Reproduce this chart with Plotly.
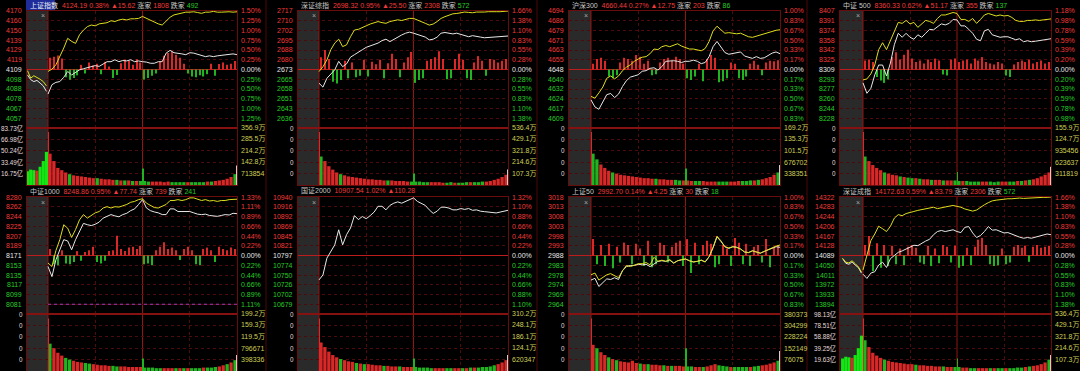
import plotly.graph_objects as go

W_PX, H_PX = 1080, 371

# ---------------- time grids (minutes after 09:30; 120 = 13:00, 240 = 15:00) ----------------
T = [0, 5, 10, 15, 20, 25, 30, 35, 40, 45, 50, 55, 60, 65, 70, 75, 80, 85, 90, 95,
     100, 105, 110, 115, 120, 125, 130, 135, 140, 145, 150, 155, 160, 165, 170, 175,
     180, 185, 190, 195, 200, 205, 210, 215, 220, 225, 230, 235, 240]
BAR_T = [2.5, 7.5, 12.5, 17.5, 22.5, 27.5, 32.5, 37.5, 42.5, 47.5, 52.5, 57.5, 62.5, 67.5,
         72.5, 77.5, 82.5, 87.5, 92.5, 97.5, 102.5, 107.5, 112.5, 117.5, 122.5, 127.5, 132.5,
         137.5, 142.5, 147.5, 152.5, 157.5, 162.5, 167.5, 172.5, 177.5, 182.5, 187.5, 192.5,
         197.5, 202.5, 207.5, 212.5, 217.5, 222.5, 227.5, 232.5, 237.5]
PRE_T = [-26, -22, -18, -14, -10, -6, -2]
SPIKE_T = [0.6, 120.6, 239.4]

# ---------------- headers ----------------
NAMES = ["上证指数", "深证综指", "沪深300", "中证 500", "中证1000", "国证2000", "上证50", "深证成指"]
LAST = ["4124.19", "2698.32", "4660.44", "8360.33", "8248.86", "10907.54", "2992.70", "14172.63"]
PCT = ["0.38%", "0.95%", "0.27%", "0.62%", "0.95%", "1.02%", "0.14%", "0.59%"]
CHG = ["▲15.62", "▲25.50", "▲12.75", "▲51.17", "▲77.74", "▲110.28", "▲4.25", "▲83.79"]
UPS = ["1808", "2308", "203", "355", "739", None, "30", "2306"]
DOWNS = ["492", "572", "86", "137", "241", None, "18", "572"]

# ---------------- tick labels (top -> bottom) ----------------
SH_PRICE_LBL = ["4170", "4160", "4150", "4139", "4129", "4119", "4109", "4098", "4088", "4078", "4067", "4057"]
SZZ_PRICE_LBL = ["2717", "2710", "2702", "2695", "2688", "2680", "2673", "2665", "2658", "2651", "2643", "2636"]
HS300_PRICE_LBL = ["4694", "4686", "4679", "4671", "4663", "4655", "4648", "4640", "4632", "4624", "4617", "4609"]
ZZ500_PRICE_LBL = ["8407", "8391", "8374", "8358", "8342", "8325", "8309", "8293", "8277", "8260", "8244", "8228"]
ZZ1000_PRICE_LBL = ["8280", "8262", "8244", "8225", "8207", "8189", "8171", "8153", "8135", "8117", "8099", "8081"]
GZ2000_PRICE_LBL = ["10940", "10916", "10892", "10869", "10845", "10821", "10797", "10774", "10750", "10726", "10702", "10679"]
SZ50_PRICE_LBL = ["3018", "3013", "3008", "3003", "2998", "2993", "2988", "2983", "2978", "2974", "2969", "2964"]
SZCZ_PRICE_LBL = ["14322", "14283", "14244", "14206", "14167", "14128", "14089", "14050", "14011", "13972", "13933", "13894"]

SH_PCT_LBL = ["1.50%", "1.25%", "1.00%", "0.75%", "0.50%", "0.25%", "0.00%", "0.25%", "0.50%", "0.75%", "1.00%", "1.25%"]
SZ_PCT_LBL = ["1.66%", "1.38%", "1.10%", "0.83%", "0.55%", "0.28%", "0.00%", "0.28%", "0.55%", "0.83%", "1.10%", "1.38%"]
HS300_PCT_LBL = ["1.00%", "0.83%", "0.67%", "0.50%", "0.33%", "0.17%", "0.00%", "0.17%", "0.33%", "0.50%", "0.67%", "0.83%"]
ZZ500_PCT_LBL = ["1.18%", "0.98%", "0.78%", "0.59%", "0.39%", "0.20%", "0.00%", "0.20%", "0.39%", "0.59%", "0.78%", "0.98%"]
ZZ1000_PCT_LBL = ["1.33%", "1.11%", "0.89%", "0.66%", "0.44%", "0.22%", "0.00%", "0.22%", "0.44%", "0.66%", "0.89%", "1.11%"]
GZ2000_PCT_LBL = ["1.32%", "1.10%", "0.88%", "0.66%", "0.44%", "0.22%", "0.00%", "0.22%", "0.44%", "0.66%", "0.88%", "1.10%"]

SH_VOL_L = ["83.73亿", "66.98亿", "50.24亿", "33.49亿", "16.75亿"]
SZCZ_VOL_L = ["98.13亿", "78.51亿", "58.88亿", "39.25亿", "19.63亿"]
ZERO_VOL_L = ["0", "0", "0", "0", "0"]
SH_VOL_R = ["356.9万", "285.5万", "214.2万", "142.8万", "713854"]
SZZ_VOL_R = ["536.4万", "429.1万", "321.8万", "214.6万", "107.3万"]
HS300_VOL_R = ["169.2万", "135.3万", "101.5万", "676702", "338351"]
ZZ500_VOL_R = ["155.9万", "124.7万", "935456", "623637", "311819"]
ZZ1000_VOL_R = ["199.2万", "159.3万", "119.5万", "796671", "398336"]
GZ2000_VOL_R = ["310.2万", "248.1万", "186.1万", "124.1万", "620347"]
SZ50_VOL_R = ["380373", "304299", "228224", "152149", "76075"]
SZCZ_VOL_R = ["536.4万", "429.1万", "321.8万", "214.6万", "107.3万"]

# ---------------- price lines (% change vs previous close) ----------------
SH_YELLOW = [-0.05, 0.01, 0.12, 0.33, 0.55, 0.80, 0.72, 0.67, 0.89, 1.01, 1.10, 1.14, 1.12, 1.17, 1.19, 1.20, 1.25,
             1.23, 1.27, 1.29, 1.27, 1.30, 1.30, 1.31, 1.36, 1.31, 1.27, 1.23, 1.17, 1.14, 1.25, 1.34, 1.40, 1.42,
             1.44, 1.47, 1.47, 1.48, 1.46, 1.44, 1.47, 1.47, 1.49, 1.47, 1.47, 1.48, 1.48, 1.47, 1.48]
SH_WHITE = [-0.63, -0.39, -0.33, -0.31, -0.20, -0.05, -0.14, -0.08, -0.01, 0.02, 0.05, 0.08, 0.10, 0.08, 0.14, 0.20,
            0.20, 0.25, 0.20, 0.23, 0.22, 0.25, 0.20, 0.22, 0.20, 0.19, 0.16, 0.16, 0.20, 0.20, 0.42, 0.49, 0.43, 0.42,
            0.40, 0.38, 0.43, 0.42, 0.39, 0.35, 0.33, 0.35, 0.33, 0.35, 0.36, 0.38, 0.39, 0.40, 0.38]
SH_PRE_Y = [-0.03, -0.22, -0.16, -0.20, -0.25, -0.31, -0.42]
SH_PRE_W = [-0.14, -0.26, -0.31, -0.28, -0.35, -0.42, -0.56]

SZZ_YELLOW = [-0.06, 0.08, 0.27, 0.56, 0.75, 0.86, 0.65, 0.70, 0.93, 1.12, 1.14, 1.20, 1.24, 1.29, 1.33, 1.36, 1.33,
              1.31, 1.36, 1.39, 1.41, 1.39, 1.42, 1.45, 1.45, 1.41, 1.36, 1.31, 1.26, 1.29, 1.36, 1.45, 1.50, 1.55,
              1.58, 1.59, 1.61, 1.63, 1.62, 1.61, 1.63, 1.62, 1.63, 1.64, 1.63, 1.64, 1.64, 1.65, 1.66]
SZZ_WHITE = [-0.39, -0.50, -0.25, -0.12, -0.01, 0.23, 0.08, 0.16, 0.35, 0.42, 0.48, 0.56, 0.63, 0.67, 0.70, 0.75, 0.82,
             0.86, 0.79, 0.86, 0.93, 0.98, 1.03, 1.06, 1.03, 1.00, 0.95, 0.92, 0.84, 0.86, 0.92, 1.03, 1.05, 1.03,
             1.01, 1.03, 1.00, 0.95, 0.93, 0.96, 0.95, 0.92, 0.90, 0.91, 0.92, 0.92, 0.93, 0.95, 0.95]

HS300_YELLOW = [-0.46, -0.49, -0.40, -0.30, -0.15, -0.11, -0.16, -0.11, -0.02, 0.04, 0.08, 0.14, 0.18, 0.21, 0.22,
                0.27, 0.35, 0.34, 0.39, 0.41, 0.39, 0.41, 0.44, 0.40, 0.38, 0.35, 0.35, 0.34, 0.32, 0.36, 0.48, 0.66,
                0.74, 0.68, 0.62, 0.63, 0.62, 0.61, 0.62, 0.59, 0.56, 0.55, 0.57, 0.59, 0.62, 0.63, 0.65, 0.67, 0.68]
HS300_WHITE = [-0.52, -0.64, -0.68, -0.55, -0.43, -0.41, -0.48, -0.42, -0.29, -0.19, -0.13, -0.11, -0.09, -0.03,
               -0.02, 0.02, 0.03, -0.01, 0.05, 0.14, 0.15, 0.15, 0.14, 0.12, 0.14, 0.14, 0.16, 0.14, 0.10, 0.12, 0.22,
               0.39, 0.48, 0.39, 0.29, 0.26, 0.27, 0.28, 0.30, 0.23, 0.21, 0.19, 0.22, 0.19, 0.20, 0.24, 0.28, 0.30, 0.27]

ZZ500_YELLOW = [-0.21, -0.19, -0.09, 0.09, 0.40, 0.54, 0.40, 0.58, 0.76, 0.95, 0.93, 0.99, 0.92, 0.95, 0.85, 0.93,
                0.99, 0.97, 0.93, 1.03, 1.10, 1.10, 1.12, 1.15, 1.13, 1.01, 1.01, 0.97, 1.03, 0.93, 1.01, 1.10, 1.13,
                1.10, 1.08, 1.10, 1.08, 1.09, 1.05, 0.99, 0.97, 0.97, 0.99, 0.99, 1.00, 0.99, 1.00, 1.01, 1.02]
ZZ500_WHITE = [-0.27, -0.48, -0.38, -0.11, 0.09, 0.09, -0.13, 0.13, 0.50, 0.73, 0.65, 0.73, 0.65, 0.61, 0.70, 0.65,
               0.73, 0.81, 0.80, 0.86, 0.92, 0.90, 0.93, 1.01, 1.00, 0.88, 0.88, 0.81, 0.73, 0.61, 0.58, 0.78, 0.81,
               0.70, 0.68, 0.65, 0.66, 0.66, 0.63, 0.60, 0.62, 0.56, 0.58, 0.56, 0.57, 0.58, 0.60, 0.61, 0.62]

ZZ1000_YELLOW = [-0.17, -0.25, 0.11, 0.36, 0.70, 0.62, 0.41, 0.59, 0.81, 0.93, 0.85, 0.91, 0.97, 1.00, 1.08, 1.11,
                 1.08, 1.11, 1.10, 1.13, 1.16, 1.21, 1.23, 1.27, 1.29, 1.19, 1.14, 1.09, 1.08, 1.12, 1.16, 1.25, 1.25,
                 1.27, 1.25, 1.27, 1.31, 1.31, 1.28, 1.25, 1.27, 1.24, 1.25, 1.23, 1.25, 1.25, 1.27, 1.27, 1.28]
ZZ1000_WHITE = [-0.25, -0.48, -0.10, 0.11, 0.36, 0.33, 0.13, 0.36, 0.56, 0.73, 0.70, 0.68, 0.71, 0.76, 0.85, 0.89,
                0.93, 0.90, 0.88, 0.93, 0.96, 1.02, 1.06, 1.16, 1.27, 1.08, 1.02, 0.99, 0.97, 0.93, 0.93, 1.06, 1.06,
                1.00, 1.00, 0.99, 1.00, 0.97, 0.94, 0.93, 0.94, 0.91, 0.90, 0.89, 0.91, 0.93, 0.92, 0.96, 0.95]

GZ2000_WHITE = [-0.55, -0.44, -0.06, 0.09, 0.24, 0.58, 0.24, 0.47, 0.62, 0.90, 0.81, 0.88, 0.83, 0.90, 0.98, 1.11,
                1.11, 1.03, 1.13, 1.18, 1.21, 1.18, 1.22, 1.27, 1.30, 1.22, 1.18, 1.13, 1.03, 0.95, 1.00, 1.09, 1.09,
                1.07, 1.03, 1.03, 1.06, 1.04, 1.06, 1.02, 1.03, 1.00, 0.99, 0.98, 0.97, 0.96, 0.98, 1.00, 1.02]

SZ50_YELLOW = [-0.33, -0.30, -0.42, -0.38, -0.33, -0.31, -0.34, -0.38, -0.26, -0.17, -0.19, -0.16, -0.14, -0.14,
               -0.12, -0.16, -0.03, -0.10, -0.08, -0.10, -0.07, -0.13, -0.09, -0.07, -0.06, -0.09, -0.11, -0.10, -0.08,
               -0.11, -0.02, 0.14, 0.33, 0.25, 0.15, 0.13, 0.15, 0.14, 0.11, 0.06, 0.05, 0.08, 0.06, 0.04, 0.07, 0.10,
               0.14, 0.16, 0.18]
SZ50_WHITE = [-0.42, -0.39, -0.53, -0.47, -0.40, -0.41, -0.38, -0.41, -0.26, -0.19, -0.17, -0.17, -0.15, -0.16,
              -0.15, -0.19, -0.15, -0.10, -0.09, -0.10, -0.08, -0.13, -0.09, -0.07, -0.06, -0.09, -0.11, -0.10, -0.08,
              -0.11, -0.02, 0.13, 0.32, 0.24, 0.15, 0.12, 0.15, 0.14, 0.11, 0.06, 0.05, 0.08, 0.06, 0.04, 0.07, 0.10,
              0.13, 0.15, 0.14]

SZCZ_YELLOW = [-0.41, 0.00, 0.42, 0.61, 0.83, 0.76, 0.68, 0.83, 1.06, 1.16, 1.13, 1.19, 1.23, 1.25, 1.28, 1.30, 1.32,
               1.34, 1.37, 1.33, 1.36, 1.38, 1.40, 1.42, 1.40, 1.37, 1.32, 1.29, 1.26, 1.29, 1.37, 1.44, 1.50, 1.55,
               1.57, 1.59, 1.60, 1.61, 1.61, 1.63, 1.63, 1.62, 1.63, 1.63, 1.64, 1.64, 1.65, 1.65, 1.66]
SZCZ_WHITE = [-0.53, -0.65, -0.50, -0.46, -0.27, -0.19, -0.34, -0.09, 0.00, 0.09, 0.13, 0.18, 0.25, 0.29, 0.28, 0.35,
              0.41, 0.46, 0.59, 0.68, 0.71, 0.68, 0.70, 0.73, 0.68, 0.65, 0.80, 0.82, 0.64, 0.51, 0.57, 0.68, 0.82,
              0.72, 0.73, 0.68, 0.64, 0.65, 0.60, 0.56, 0.52, 0.49, 0.51, 0.49, 0.52, 0.56, 0.59, 0.61, 0.59]
SZCZ_PRE_Y = [-0.08, -0.19, -0.21, -0.15, -0.23, -0.32, -0.47]
SZCZ_PRE_W = [-0.09, -0.22, -0.25, -0.18, -0.27, -0.34, -0.50]

# ---------------- red/green strength bars (in % units of each panel) ----------------
SH_MOM = [0.30, 0.33, 0.36, 0.28, -0.20, -0.26, -0.22, -0.15, 0.12, -0.10, 0.18, 0.10, 0.15, -0.12, 0.20, 0.08,
          -0.22, -0.14, 0.16, 0.25, 0.22, 0.12, 0.26, 0.18, -0.26, -0.22, -0.16, -0.10, 0.20, 0.35, 0.42, 0.46, 0.38,
          0.30, 0.15, -0.10, -0.18, -0.20, -0.15, -0.18, -0.12, 0.15, -0.16, 0.14, 0.18, 0.12, 0.15, 0.22]
SZZ_MOM = [0.35, 0.55, 0.30, -0.35, -0.40, -0.30, 0.25, -0.25, 0.20, -0.22, -0.18, 0.28, -0.20, 0.22, 0.15, 0.28,
           -0.25, 0.18, 0.45, 0.30, -0.22, 0.20, 0.35, 0.50, -0.38, -0.30, -0.25, 0.25, 0.30, 0.35, 0.52, 0.30, -0.28,
           -0.25, 0.30, 0.45, 0.28, -0.25, -0.30, 0.20, 0.38, 0.25, -0.18, 0.30, 0.28, 0.20, 0.25, 0.30]
HS300_MOM = [0.10, 0.18, 0.20, 0.15, -0.12, -0.15, -0.10, 0.12, 0.20, 0.18, 0.15, 0.25, 0.22, 0.10, 0.15, -0.10,
             -0.08, 0.12, 0.18, 0.20, 0.15, 0.22, 0.18, 0.10, -0.15, -0.18, -0.12, 0.10, -0.20, 0.18, 0.25, 0.20,
             -0.22, -0.20, -0.15, 0.12, 0.10, -0.15, -0.18, -0.12, 0.10, 0.15, 0.08, -0.10, 0.12, 0.15, 0.14, 0.16]
ZZ500_MOM = [0.18, 0.20, 0.15, -0.15, -0.22, -0.27, -0.20, 0.25, 0.35, 0.20, 0.30, 0.40, 0.22, 0.15, 0.18, 0.12,
             0.20, 0.15, 0.22, 0.18, -0.10, -0.12, 0.20, 0.22, 0.15, 0.18, 0.20, 0.12, 0.22, 0.18, 0.25, 0.15, 0.12,
             0.10, 0.15, 0.12, -0.12, -0.15, 0.10, 0.15, 0.18, 0.15, 0.20, 0.12, 0.15, 0.18, 0.12, 0.15]
ZZ1000_MOM = [0.15, -0.20, -0.22, 0.12, -0.18, -0.20, -0.15, 0.10, -0.12, 0.08, 0.12, 0.20, -0.15, -0.18, -0.12,
              0.10, 0.12, 0.45, 0.15, 0.10, 0.18, 0.20, 0.15, 0.22, -0.20, -0.18, -0.22, 0.12, 0.20, 0.30, 0.15, 0.18,
              0.12, -0.10, 0.15, 0.20, 0.12, -0.20, -0.22, 0.15, 0.18, 0.12, -0.15, 0.20, 0.15, 0.12, 0.18, 0.15]
SZ50_MOM = [0.28, -0.15, 0.18, -0.18, 0.20, -0.22, 0.15, -0.12, 0.22, 0.18, -0.15, 0.20, 0.12, -0.18, 0.25, -0.20,
            -0.15, 0.22, 0.18, -0.12, 0.15, 0.22, 0.25, -0.18, 0.28, -0.30, 0.22, -0.15, 0.18, 0.25, 0.20, -0.20,
            -0.15, 0.18, 0.12, -0.18, 0.30, 0.22, -0.15, 0.20, -0.18, 0.15, 0.18, -0.12, 0.28, -0.20, 0.15, 0.18]
SZCZ_MOM = [0.30, 0.55, -0.45, 0.35, -0.35, 0.30, -0.30, 0.28, -0.25, 0.20, -0.28, 0.25, 0.30, 0.22, -0.20, -0.25,
            0.28, -0.30, 0.20, -0.22, 0.30, 0.25, -0.20, 0.28, -0.35, -0.30, 0.22, -0.28, 0.25, 0.45, 0.50, 0.30,
            -0.25, -0.30, -0.28, 0.20, -0.25, -0.20, 0.25, 0.30, 0.22, 0.28, -0.18, 0.25, 0.30, 0.22, 0.25, 0.28]

# ---------------- volume (share of each panel's volume-axis top) ----------------
SH_VOL = [0.55, 0.42, 0.30, 0.26, 0.22, 0.19, 0.17, 0.16, 0.15, 0.14, 0.13, 0.12, 0.12, 0.11, 0.10, 0.10, 0.09, 0.09,
          0.08, 0.08, 0.08, 0.07, 0.07, 0.07, 0.07, 0.06, 0.06, 0.06, 0.06, 0.05, 0.06, 0.05, 0.05, 0.05, 0.05, 0.05,
          0.05, 0.05, 0.05, 0.05, 0.06, 0.06, 0.07, 0.08, 0.09, 0.11, 0.14, 0.19]
SZZ_VOL = [0.50, 0.42, 0.33, 0.27, 0.22, 0.19, 0.17, 0.15, 0.14, 0.13, 0.12, 0.11, 0.10, 0.10, 0.09, 0.09, 0.08, 0.08,
           0.08, 0.07, 0.07, 0.07, 0.06, 0.06, 0.06, 0.06, 0.05, 0.05, 0.05, 0.05, 0.05, 0.04, 0.04, 0.05, 0.04, 0.04,
           0.04, 0.05, 0.05, 0.05, 0.05, 0.06, 0.06, 0.07, 0.09, 0.11, 0.14, 0.18]
HS300_VOL = [0.55, 0.45, 0.36, 0.30, 0.25, 0.22, 0.20, 0.18, 0.17, 0.16, 0.15, 0.14, 0.13, 0.12, 0.12, 0.11, 0.11,
             0.10, 0.10, 0.09, 0.09, 0.09, 0.08, 0.08, 0.08, 0.07, 0.07, 0.07, 0.07, 0.06, 0.06, 0.06, 0.06, 0.06,
             0.06, 0.06, 0.06, 0.07, 0.07, 0.07, 0.08, 0.08, 0.09, 0.10, 0.12, 0.14, 0.18, 0.22]
ZZ500_VOL = [0.50, 0.42, 0.35, 0.30, 0.26, 0.22, 0.20, 0.18, 0.17, 0.15, 0.14, 0.13, 0.12, 0.12, 0.11, 0.10, 0.10,
             0.09, 0.09, 0.09, 0.08, 0.08, 0.08, 0.08, 0.07, 0.07, 0.07, 0.06, 0.06, 0.06, 0.06, 0.06, 0.06, 0.05,
             0.06, 0.06, 0.06, 0.06, 0.06, 0.07, 0.07, 0.08, 0.09, 0.10, 0.12, 0.15, 0.18, 0.22]
ZZ1000_VOL = [0.48, 0.40, 0.32, 0.27, 0.23, 0.20, 0.18, 0.16, 0.15, 0.14, 0.13, 0.12, 0.11, 0.10, 0.10, 0.09, 0.09,
              0.08, 0.08, 0.08, 0.07, 0.07, 0.07, 0.07, 0.06, 0.06, 0.06, 0.05, 0.05, 0.05, 0.05, 0.05, 0.05, 0.05,
              0.05, 0.05, 0.05, 0.05, 0.05, 0.06, 0.06, 0.06, 0.07, 0.08, 0.10, 0.12, 0.15, 0.19]
GZ2000_VOL = [0.50, 0.42, 0.34, 0.28, 0.24, 0.21, 0.19, 0.17, 0.16, 0.14, 0.13, 0.12, 0.12, 0.11, 0.10, 0.10, 0.09,
              0.09, 0.08, 0.08, 0.08, 0.07, 0.07, 0.07, 0.07, 0.06, 0.06, 0.06, 0.05, 0.05, 0.05, 0.05, 0.05, 0.05,
              0.05, 0.05, 0.05, 0.05, 0.06, 0.06, 0.06, 0.07, 0.07, 0.08, 0.10, 0.12, 0.15, 0.19]
SZ50_VOL = [0.46, 0.40, 0.33, 0.28, 0.24, 0.21, 0.19, 0.17, 0.16, 0.15, 0.18, 0.14, 0.13, 0.12, 0.12, 0.11, 0.11,
            0.10, 0.10, 0.09, 0.09, 0.09, 0.09, 0.08, 0.08, 0.08, 0.07, 0.07, 0.07, 0.08, 0.10, 0.12, 0.10, 0.09,
            0.08, 0.07, 0.07, 0.07, 0.07, 0.07, 0.07, 0.08, 0.09, 0.10, 0.11, 0.13, 0.15, 0.18]
SZCZ_VOL = [0.54, 0.42, 0.32, 0.27, 0.23, 0.20, 0.18, 0.16, 0.15, 0.14, 0.13, 0.12, 0.12, 0.11, 0.10, 0.10, 0.09,
            0.09, 0.08, 0.08, 0.08, 0.07, 0.07, 0.07, 0.07, 0.06, 0.06, 0.05, 0.05, 0.05, 0.05, 0.05, 0.05, 0.05,
            0.05, 0.05, 0.05, 0.05, 0.05, 0.06, 0.06, 0.07, 0.08, 0.09, 0.10, 0.12, 0.15, 0.20]
# open / 13:00 / close single-minute bars
SH_SPIKES = [0.93, 0.29, 0.34]
SZZ_SPIKES = [0.93, 0.20, 0.27]
HS300_SPIKES = [0.93, 0.29, 0.35]
ZZ500_SPIKES = [0.93, 0.23, 0.32]
ZZ1000_SPIKES = [0.92, 0.22, 0.28]
GZ2000_SPIKES = [0.92, 0.22, 0.28]
SZ50_SPIKES = [0.92, 0.40, 0.35]
SZCZ_SPIKES = [0.92, 0.22, 0.28]
SH_PRE_VOL = [0.24, 0.27, 0.26, 0.25, 0.32, 0.42, 0.58]
SZCZ_PRE_VOL = [0.22, 0.25, 0.24, 0.23, 0.28, 0.40, 0.62]

PANELS = [
    dict(lp=SH_PRICE_LBL, lpct=SH_PCT_LBL, vl=SH_VOL_L, vr=SH_VOL_R, w=SH_WHITE, y=SH_YELLOW, m=SH_MOM,
         v=SH_VOL, s=SH_SPIKES, pw=SH_PRE_W, py=SH_PRE_Y, pv=SH_PRE_VOL),
    dict(lp=SZZ_PRICE_LBL, lpct=SZ_PCT_LBL, vl=ZERO_VOL_L, vr=SZZ_VOL_R, w=SZZ_WHITE, y=SZZ_YELLOW, m=SZZ_MOM,
         v=SZZ_VOL, s=SZZ_SPIKES, pw=None, py=None, pv=None),
    dict(lp=HS300_PRICE_LBL, lpct=HS300_PCT_LBL, vl=ZERO_VOL_L, vr=HS300_VOL_R, w=HS300_WHITE, y=HS300_YELLOW,
         m=HS300_MOM, v=HS300_VOL, s=HS300_SPIKES, pw=None, py=None, pv=None),
    dict(lp=ZZ500_PRICE_LBL, lpct=ZZ500_PCT_LBL, vl=ZERO_VOL_L, vr=ZZ500_VOL_R, w=ZZ500_WHITE, y=ZZ500_YELLOW,
         m=ZZ500_MOM, v=ZZ500_VOL, s=ZZ500_SPIKES, pw=None, py=None, pv=None),
    dict(lp=ZZ1000_PRICE_LBL, lpct=ZZ1000_PCT_LBL, vl=ZERO_VOL_L, vr=ZZ1000_VOL_R, w=ZZ1000_WHITE, y=ZZ1000_YELLOW,
         m=ZZ1000_MOM, v=ZZ1000_VOL, s=ZZ1000_SPIKES, pw=None, py=None, pv=None),
    dict(lp=GZ2000_PRICE_LBL, lpct=GZ2000_PCT_LBL, vl=ZERO_VOL_L, vr=GZ2000_VOL_R, w=GZ2000_WHITE, y=None,
         m=None, v=GZ2000_VOL, s=GZ2000_SPIKES, pw=None, py=None, pv=None),
    dict(lp=SZ50_PRICE_LBL, lpct=HS300_PCT_LBL, vl=ZERO_VOL_L, vr=SZ50_VOL_R, w=SZ50_WHITE, y=SZ50_YELLOW,
         m=SZ50_MOM, v=SZ50_VOL, s=SZ50_SPIKES, pw=None, py=None, pv=None),
    dict(lp=SZCZ_PRICE_LBL, lpct=SZ_PCT_LBL, vl=SZCZ_VOL_L, vr=SZCZ_VOL_R, w=SZCZ_WHITE, y=SZCZ_YELLOW, m=SZCZ_MOM,
         v=SZCZ_VOL, s=SZCZ_SPIKES, pw=SZCZ_PRE_W, py=SZCZ_PRE_Y, pv=SZCZ_PRE_VOL),
]

# ---------------- layout geometry (pixels) ----------------
COLS = [(27, 48, 237), (298, 319, 508), (569, 591, 780), (840, 863, 1051)]   # left, pre-open end, right
ROWS = [(11, 128, 185, 5), (197, 314, 371, 191)]                             # price top, split, vol bottom, title y

FONT = "Liberation Sans, Arial, Noto Sans CJK SC, sans-serif"
RED_T, GREEN_T, WHITE_T, GRAY_T, VOL_T, VOLL_T = "#f03a3a", "#26cc26", "#e8e8e8", "#c8c8c8", "#cfcf55", "#e4dada"
RED_B, GREEN_B, PRE_G = "#d82828", "#20b420", "#14e614"
FRAME, GRID, VLINE, ZERO, SEP = "#6a0c0c", "#4e0b0b", "#961414", "#bc1c1c", "#a01616"
PRE_BG = "#2a2a2a"


def akey(kind, n):
    return f"{kind}axis" if n == 1 else f"{kind}axis{n}"


def aref(kind, n):
    return kind if n == 1 else f"{kind}{n}"


fig = go.Figure()
shapes, annotations, axes = [], [], {}

for p, P in enumerate(PANELS):
    c, r = p % 4, p // 4
    L, GE, R = COLS[c]
    PT, PB, VB, TY = ROWS[r]
    G = 240 * (GE - L) / (R - GE)
    rng = float(P["lpct"][0].rstrip("%"))
    a, b = 2 * p + 1, 2 * p + 2
    xa, ya, xb, yb = aref("x", a), aref("y", a), aref("x", b), aref("y", b)
    xdom = [L / W_PX, R / W_PX]
    common = dict(showticklabels=False, ticks="", zeroline=False, showline=True, mirror=True,
                  linecolor=FRAME, linewidth=1, showgrid=True, gridcolor=GRID, griddash="dot",
                  gridwidth=1, fixedrange=True)
    axes[akey("x", a)] = dict(domain=xdom, range=[-G, 240], anchor=ya, tickvals=[60, 180], **common)
    axes[akey("y", a)] = dict(domain=[1 - PB / H_PX, 1 - PT / H_PX], range=[-rng, rng], anchor=xa,
                              tickvals=[k * rng / 6 for k in range(-5, 6) if k != 0], **common)
    axes[akey("x", b)] = dict(domain=xdom, range=[-G, 240], anchor=yb, tickvals=[60, 180], **common)
    axes[akey("y", b)] = dict(domain=[1 - VB / H_PX, 1 - PB / H_PX], range=[0, 1], anchor=xb,
                              tickvals=[0.2, 0.4, 0.6, 0.8], **common)

    # ---- traces ----
    if P["m"] is not None:
        fig.add_trace(go.Bar(x=BAR_T, y=P["m"], width=1.4, xaxis=xa, yaxis=ya,
                             marker=dict(color=[RED_B if v > 0 else GREEN_B for v in P["m"]], line_width=0)))
    if P["pw"] is not None:
        fig.add_trace(go.Scatter(x=PRE_T, y=P["pw"], mode="lines", xaxis=xa, yaxis=ya,
                                 line=dict(color="#e8e8e8", width=1)))
        fig.add_trace(go.Scatter(x=PRE_T, y=P["py"], mode="lines", xaxis=xa, yaxis=ya,
                                 line=dict(color="#dede1e", width=1)))
    fig.add_trace(go.Scatter(x=T, y=P["w"], mode="lines", xaxis=xa, yaxis=ya,
                             line=dict(color="#e8e8e8", width=1)))
    if P["y"] is not None:
        fig.add_trace(go.Scatter(x=T, y=P["y"], mode="lines", xaxis=xa, yaxis=ya,
                                 line=dict(color="#dede1e", width=1)))
    # volume
    wl = P["w"]
    vcol = [RED_B if wl[i + 1] >= wl[i] else GREEN_B for i in range(len(P["v"]))]
    fig.add_trace(go.Bar(x=BAR_T, y=P["v"], width=4.2, xaxis=xb, yaxis=yb,
                         marker=dict(color=vcol, line_width=0)))
    if P["pv"] is not None:
        pw = P["pw"]
        pcol = [RED_B if (i > 0 and pw[i] > pw[i - 1]) else PRE_G for i in range(len(pw))]
        fig.add_trace(go.Bar(x=PRE_T, y=P["pv"], width=4, xaxis=xb, yaxis=yb,
                             marker=dict(color=pcol, line_width=0)))
    fig.add_trace(go.Bar(x=SPIKE_T, y=P["s"], width=1.2, xaxis=xb, yaxis=yb,
                         marker=dict(color=[RED_B, GREEN_B, "#cfcfcf"], line_width=0)))

    # ---- shapes ----
    y_bot, y_top = 1 - VB / H_PX, 1 - PT / H_PX
    shapes.append(dict(type="rect", xref=xa, yref="paper", x0=-G, x1=0, y0=y_bot, y1=y_top,
                       fillcolor=PRE_BG, line_width=0, layer="below"))
    for xv in (0, 120):
        shapes.append(dict(type="line", xref=xa, yref="paper", x0=xv, x1=xv, y0=y_bot, y1=y_top,
                           line=dict(color=VLINE, width=1), layer="between"))
    shapes.append(dict(type="line", xref=xa, yref=ya, x0=-G, x1=240, y0=0, y1=0,
                       line=dict(color=ZERO, width=1), layer="between"))
    shapes.append(dict(type="line", xref=xa, yref="paper", x0=-G, x1=240, y0=1 - PB / H_PX, y1=1 - PB / H_PX,
                       line=dict(color=SEP, width=1), layer="above"))
    if p == 4:
        shapes.append(dict(type="line", xref=xa, yref=ya, x0=0, x1=240, y0=-5 * rng / 6, y1=-5 * rng / 6,
                           line=dict(color="#b03cc0", width=1, dash="dot"), layer="between"))

    # ---- labels ----
    for k, (lp, lpc) in enumerate(zip(P["lp"], P["lpct"])):
        lvl = 6 - k
        col = RED_T if lvl > 0 else (WHITE_T if lvl == 0 else GREEN_T)
        yv = lvl * rng / 6
        annotations.append(dict(text=lp, x=(L - 3) / W_PX, xref="paper", xanchor="right", y=yv, yref=ya,
                                yanchor="middle", showarrow=False, font=dict(size=7, color=col, family=FONT)))
        annotations.append(dict(text=lpc, x=(R + 2) / W_PX, xref="paper", xanchor="left", y=yv, yref=ya,
                                yanchor="middle", showarrow=False, font=dict(size=7, color=col, family=FONT)))
    for k, (vl, vr) in enumerate(zip(P["vl"], P["vr"])):
        yv = 1 - 0.2 * k
        annotations.append(dict(text=vl, x=(L - 2) / W_PX, xref="paper", xanchor="right", y=yv, yref=yb,
                                yanchor="middle", showarrow=False, font=dict(size=6.3, color=VOLL_T, family=FONT)))
        annotations.append(dict(text=vr, x=(R + 2) / W_PX, xref="paper", xanchor="left", y=yv, yref=yb,
                                yanchor="middle", showarrow=False, font=dict(size=7, color=VOL_T, family=FONT)))
    # title
    sp = "\u00a0"
    name_col = "#f0f0f0" if p == 0 else GRAY_T
    txt = (f"<span style='color:{name_col}'>{NAMES[p]}</span>{sp}{sp}"
           f"<span style='color:{RED_T}'>{LAST[p]}{sp}{PCT[p]}{sp}{CHG[p]}</span>")
    if UPS[p]:
        txt += (f"{sp}<span style='color:{GRAY_T}'>涨家</span>{sp}<span style='color:{RED_T}'>{UPS[p]}</span>"
                f"{sp}<span style='color:{GRAY_T}'>跌家</span>{sp}<span style='color:{GREEN_T}'>{DOWNS[p]}</span>")
    annotations.append(dict(text=txt, x=(L + 1) / W_PX, xref="paper", xanchor="left", y=1 - TY / H_PX,
                            yref="paper", yanchor="middle", showarrow=False,
                            font=dict(size=7, color=GRAY_T, family=FONT)))
    annotations.append(dict(text="×", x=(GE - 5) / W_PX, xref="paper", xanchor="center",
                            y=1 - (PT + 5) / H_PX, yref="paper", yanchor="middle", showarrow=False,
                            font=dict(size=7, color="#a8a8a8", family=FONT)))

# selected-panel highlight and panel separators
shapes.append(dict(type="rect", xref="paper", yref="paper", x0=26 / W_PX, x1=55 / W_PX, y0=1 - 10 / H_PX, y1=1,
                   fillcolor="#1e2c9c", line_width=0, layer="below"))
for xs in (266, 537, 807):
    shapes.append(dict(type="line", xref="paper", yref="paper", x0=xs / W_PX, x1=xs / W_PX, y0=0, y1=1,
                       line=dict(color="#4c0808", width=1), layer="below"))

fig.update_layout(width=W_PX, height=H_PX, margin=dict(l=0, r=0, t=0, b=0), paper_bgcolor="black",
                  plot_bgcolor="black", showlegend=False, barmode="overlay", shapes=shapes,
                  annotations=annotations, font=dict(family=FONT), **axes)
fig.write_html("out.html")
